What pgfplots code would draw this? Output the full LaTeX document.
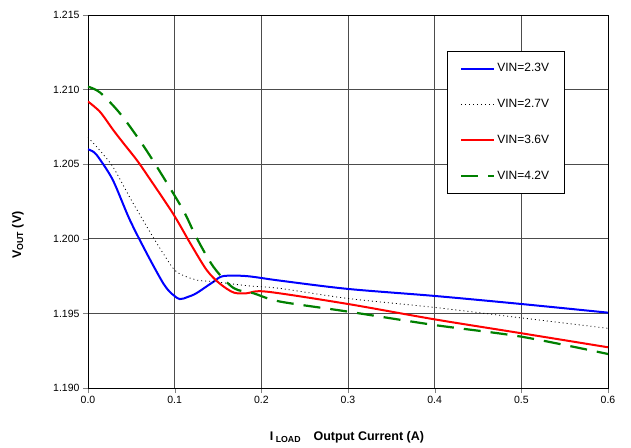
\documentclass[border=0pt]{standalone}
\usepackage{pgfplots}
\pgfplotsset{compat=1.18}
\usepackage{fontspec}
\setmainfont{Liberation Sans}

\definecolor{xlblue}{RGB}{0,0,255}
\definecolor{xlred}{RGB}{255,0,0}
\definecolor{xlgreen}{RGB}{0,128,0}

\begin{document}
\begin{tikzpicture}
% feste Bildgroesse wie die Vorlage
\path[use as bounding box] (-88pt,-59pt) rectangle (543pt,388pt);
\begin{axis}[
  scale only axis,
  width=520pt, height=373pt,
  xmin=0, xmax=0.6,
  ymin=1.190, ymax=1.215,
  xtick={0,0.1,0.2,0.3,0.4,0.5,0.6},
  ytick={1.190,1.195,1.200,1.205,1.210,1.215},
  /pgf/number format/assume math mode=true,
  xticklabel style={/pgf/number format/.cd,fixed,fixed zerofill,precision=1},
  yticklabel style={/pgf/number format/.cd,fixed,fixed zerofill,precision=3},
  scaled ticks=false,
  tick label style={font=\fontsize{10.5}{12}\selectfont},
  tick align=outside, tick pos=left,
  major tick length=5pt,
  grid=major,
  major grid style={black!70, line width=0.8pt},
  axis line style={black, line width=0.8pt},
  every axis y label/.style={at={(axis description cs:-0.1346,0.41)},rotate=90,anchor=center},
  every axis x label/.style={at={(axis description cs:0.498,-0.131)},anchor=center},
  ylabel={\fontsize{12.5}{14}\selectfont\bfseries V\textsubscript{OUT} (V)},
  xlabel={\fontsize{12.5}{14}\selectfont\bfseries I\textsubscript{ LOAD}\quad Output Current (A)},
  legend style={at={(0.69,0.903)}, anchor=north west, draw=black, line width=0.8pt,
    font=\fontsize{12}{14}\selectfont, row sep=22pt,
    inner xsep=13pt, inner ysep=10pt},
  legend cell align=left,
  legend image code/.code={\draw[#1] (0pt,0pt) -- (33pt,0pt);},
]

\addplot[xlblue, line width=2pt, smooth, tension=0.5] coordinates {
(0,1.2060) (0.007,1.2058) (0.014,1.2053) (0.029,1.2039) (0.048,1.2013)
(0.068,1.1990) (0.087,1.1970) (0.097,1.1963) (0.106,1.19596) (0.115,1.1961)
(0.125,1.19635) (0.145,1.19713) (0.156,1.1975) (0.183,1.1975) (0.221,1.1972)
(0.3,1.19664) (0.4,1.19617) (0.5,1.19563) (0.6,1.19505)
};
\addlegendentry{VIN=2.3V}

\addplot[black, line width=0.8pt, dash pattern=on 1pt off 3pt, smooth, tension=0.5] coordinates {
(0,1.2068) (0.014,1.2059) (0.029,1.2048) (0.048,1.2028) (0.068,1.2008)
(0.087,1.1990) (0.102,1.1978) (0.125,1.19724) (0.145,1.19713) (0.183,1.19686)
(0.221,1.19668) (0.3,1.1960) (0.4,1.1954) (0.5,1.1947) (0.6,1.1940)
};
\addlegendentry{VIN=2.7V}

\addplot[xlred, line width=2pt, smooth, tension=0.5] coordinates {
(0,1.2092) (0.014,1.2085) (0.029,1.2073) (0.041,1.2064) (0.056,1.2053)
(0.068,1.2043) (0.098,1.2017) (0.118,1.1997) (0.137,1.1979) (0.152,1.1970)
(0.168,1.1964) (0.183,1.19635) (0.206,1.19646) (0.3,1.19563) (0.4,1.1946)
(0.5,1.19367) (0.6,1.19273)
};
\addlegendentry{VIN=3.6V}

\addplot[xlgreen, line width=2.2pt, dash pattern=on 17pt off 10pt, smooth, tension=0.5] coordinates {
(0,1.2102) (0.014,1.2098) (0.037,1.2084) (0.062,1.2064) (0.083,1.2045)
(0.11,1.2019) (0.125,1.2001) (0.145,1.1981) (0.168,1.1967) (0.191,1.19635)
(0.221,1.1958) (0.3,1.19512) (0.4,1.19422) (0.5,1.19344) (0.6,1.19228)
};
\addlegendentry{VIN=4.2V}

\end{axis}
\end{tikzpicture}
\end{document}
